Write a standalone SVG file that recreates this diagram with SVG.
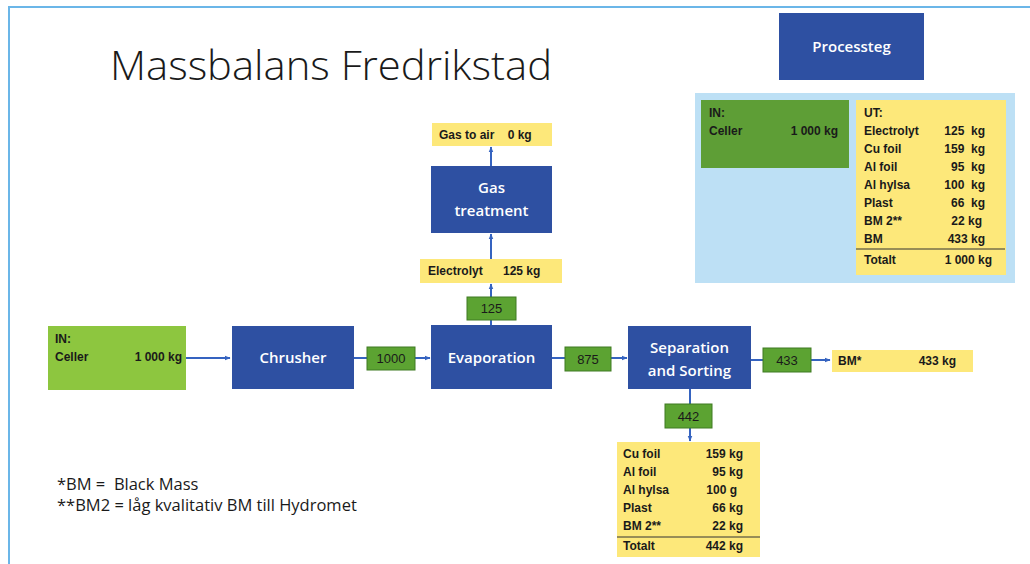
<svg xmlns="http://www.w3.org/2000/svg" width="1030" height="564" viewBox="0 0 1030 564">
<defs>
<marker id="ah" viewBox="0 0 10 10" refX="9" refY="5" markerWidth="6" markerHeight="6" markerUnits="userSpaceOnUse" orient="auto">
<path d="M0,1 L10,5 L0,9 z" fill="#3563c0"/>
</marker>
<style>
.t{font-family:"Liberation Sans Narrow","Liberation Sans",Arial,sans-serif;font-weight:bold;font-size:12px;fill:#1a1a1a}
.n{font-family:"Liberation Sans Narrow","Liberation Sans",Arial,sans-serif;font-size:13px;fill:#1a1a1a}
.w{font-family:"Open Sans","Liberation Sans",sans-serif;font-weight:600;font-size:15px;fill:#ffffff}
.proc{fill:#2e50a2}
.lab{fill:#5ca332;stroke:#3f7a22;stroke-width:1}
.yel{fill:#fde87a}
.c{stroke:#3563c0;stroke-width:2;fill:none}
.ca{stroke:#3563c0;stroke-width:2;fill:none;marker-end:url(#ah)}
.r{text-anchor:end}
.m{text-anchor:middle}
</style>
</defs>
<rect width="1030" height="564" fill="#ffffff"/>
<path d="M9,564 V7 H1030" stroke="#6bb6e8" stroke-width="2" fill="none"/>
<text x="110" y="80" font-family="Open Sans, Liberation Sans, sans-serif" font-weight="300" font-size="40" fill="#1a1a1a" textLength="442" lengthAdjust="spacingAndGlyphs">Massbalans Fredrikstad</text>

<g id="legend">
<rect x="779" y="13" width="145" height="67" class="proc"/>
<text x="851.5" y="52" class="w m" font-size="14">Processteg</text>
<rect x="695" y="93" width="320" height="190" fill="#bde0f5"/>
<rect x="701" y="100" width="148" height="68" fill="#5e9e36"/>
<text x="709" y="117" class="t">IN:</text>
<text x="709" y="135" class="t">Celler</text>
<text x="838" y="135" class="t r">1 000 kg</text>
<rect x="856" y="100" width="150" height="175" class="yel"/>
<text x="864" y="117" class="t">UT:</text>
<text x="864" y="135" class="t">Electrolyt</text><text x="985" y="135" class="t r" xml:space="preserve">125  kg</text>
<text x="864" y="153" class="t">Cu foil</text><text x="985" y="153" class="t r" xml:space="preserve">159  kg</text>
<text x="864" y="171" class="t">Al foil</text><text x="985" y="171" class="t r" xml:space="preserve">95  kg</text>
<text x="864" y="189" class="t">Al hylsa</text><text x="985" y="189" class="t r" xml:space="preserve">100  kg</text>
<text x="864" y="207" class="t">Plast</text><text x="985" y="207" class="t r" xml:space="preserve">66  kg</text>
<text x="864" y="225" class="t">BM 2**</text><text x="982" y="225" class="t r">22 kg</text>
<text x="864" y="243" class="t">BM</text><text x="985" y="243" class="t r">433 kg</text>
<line x1="856" y1="249" x2="1005" y2="249" stroke="#333" stroke-width="1"/>
<text x="864" y="264" class="t">Totalt</text><text x="992" y="264" class="t r">1 000 kg</text>
</g>

<g id="connectors">
<line x1="186" y1="358" x2="230" y2="358" class="ca"/>
<line x1="354" y1="358" x2="367" y2="358" class="c"/>
<line x1="415" y1="358" x2="430" y2="358" class="ca"/>
<line x1="552" y1="358" x2="565" y2="358" class="c"/>
<line x1="611" y1="358" x2="627" y2="358" class="ca"/>
<line x1="751" y1="360" x2="763" y2="360" class="c"/>
<line x1="811" y1="360" x2="830" y2="360" class="ca"/>
<line x1="690" y1="389" x2="690" y2="404" class="c"/>
<line x1="690" y1="428" x2="690" y2="441" class="ca"/>
<line x1="491" y1="325" x2="491" y2="320" class="c"/>
<line x1="491" y1="297" x2="491" y2="284" class="ca"/>
<line x1="491" y1="259" x2="491" y2="234" class="ca"/>
<line x1="491" y1="166" x2="491" y2="147" class="ca"/>
</g>

<g id="in">
<rect x="48" y="326" width="138" height="64" fill="#8dc63f"/>
<text x="55" y="343" class="t">IN:</text>
<text x="55" y="361" class="t">Celler</text>
<text x="182" y="361" class="t r">1 000 kg</text>
</g>
<g id="chrusher">
<rect x="232" y="326" width="122" height="63" class="proc"/>
<text x="293" y="363" class="w m">Chrusher</text>
</g>
<g id="f1000">
<rect x="367" y="347" width="48" height="23" class="lab"/>
<text x="391" y="363" class="n m">1000</text>
</g>
<g id="evaporation">
<rect x="431" y="325" width="121" height="64" class="proc"/>
<text x="491.5" y="363" class="w m">Evaporation</text>
</g>
<g id="f875">
<rect x="565" y="347" width="46" height="24" class="lab"/>
<text x="588" y="364" class="n m">875</text>
</g>
<g id="separation">
<rect x="628" y="326" width="123" height="63" class="proc"/>
<text x="689.5" y="353" class="w m">Separation</text>
<text x="689.5" y="376" class="w m">and Sorting</text>
</g>
<g id="f433">
<rect x="763" y="348" width="48" height="24" class="lab"/>
<text x="787" y="365" class="n m">433</text>
</g>
<g id="bm">
<rect x="832" y="350" width="141" height="22" class="yel"/>
<text x="838" y="365" class="t">BM*</text>
<text x="956" y="365" class="t r">433 kg</text>
</g>
<g id="f442">
<rect x="665" y="404" width="47" height="24" class="lab"/>
<text x="688.5" y="421" class="n m">442</text>
</g>
<g id="out442">
<rect x="617" y="442" width="143" height="115" class="yel"/>
<text x="623" y="458" class="t">Cu foil</text><text x="743" y="458" class="t r">159 kg</text>
<text x="623" y="476" class="t">Al foil</text><text x="743" y="476" class="t r">95 kg</text>
<text x="623" y="494" class="t">Al hylsa</text><text x="737" y="494" class="t r">100 g</text>
<text x="623" y="512" class="t">Plast</text><text x="743" y="512" class="t r">66 kg</text>
<text x="623" y="530" class="t">BM 2**</text><text x="743" y="530" class="t r">22 kg</text>
<line x1="617" y1="537" x2="760" y2="537" stroke="#333" stroke-width="1"/>
<text x="623" y="550" class="t">Totalt</text><text x="743" y="550" class="t r">442 kg</text>
</g>
<g id="f125">
<rect x="467" y="297" width="49" height="23" class="lab"/>
<text x="491.5" y="313" class="n m">125</text>
</g>
<g id="electrolyt">
<rect x="420" y="259" width="142" height="24" class="yel"/>
<text x="428" y="275" class="t">Electrolyt</text>
<text x="503" y="275" class="t">125 kg</text>
</g>
<g id="gastreatment">
<rect x="431" y="166" width="121" height="67" class="proc"/>
<text x="491.5" y="193" class="w m">Gas</text>
<text x="491.5" y="216" class="w m">treatment</text>
</g>
<g id="gastoair">
<rect x="432" y="123" width="120" height="23" class="yel"/>
<text x="439" y="139" class="t" xml:space="preserve">Gas to air    0 kg</text>
</g>

<g id="notes" font-family="Open Sans, Liberation Sans, sans-serif" font-size="16.5" fill="#1a1a1a">
<text x="57" y="490" xml:space="preserve">*BM =  Black Mass</text>
<text x="57" y="511">**BM2 = låg kvalitativ BM till Hydromet</text>
</g>
</svg>
